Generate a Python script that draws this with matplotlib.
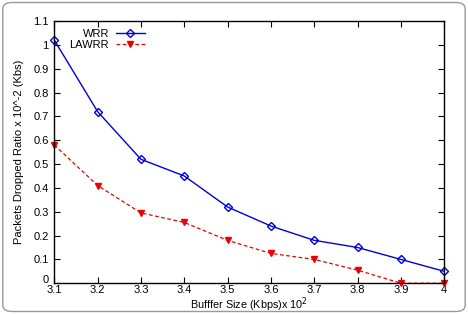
import matplotlib
matplotlib.use("Agg")
import matplotlib.pyplot as plt
from matplotlib.patches import FancyBboxPatch

plt.rcParams["font.family"] = ["Liberation Sans", "DejaVu Sans"]

buffer_size = [3.1, 3.2, 3.3, 3.4, 3.5, 3.6, 3.7, 3.8, 3.9, 4.0]
wrr = [1.02, 0.72, 0.52, 0.45, 0.32, 0.24, 0.18, 0.15, 0.10, 0.05]
lawrr = [0.58, 0.41, 0.295, 0.255, 0.18, 0.125, 0.10, 0.055, 0.0, 0.0]
x_ticks = [3.1, 3.2, 3.3, 3.4, 3.5, 3.6, 3.7, 3.8, 3.9, 4.0]
x_tick_labels = ["3.1", "3.2", "3.3", "3.4", "3.5", "3.6", "3.7", "3.8", "3.9", "4"]
y_ticks = [0, 0.1, 0.2, 0.3, 0.4, 0.5, 0.6, 0.7, 0.8, 0.9, 1.0, 1.1]
y_tick_labels = ["0", "0.1", "0.2", "0.3", "0.4", "0.5", "0.6", "0.7", "0.8", "0.9", "1", "1.1"]

fig = plt.figure(figsize=(4.68, 3.14), dpi=100)

# rounded grey frame round the whole figure
frame = FancyBboxPatch((0.006, 0.008), 0.988, 0.984, boxstyle="round,pad=0,rounding_size=0.02",
                       transform=fig.transFigure, facecolor="none", edgecolor="#999999", lw=1.0)
fig.patches.append(frame)

ax = fig.add_axes([0.116, 0.098, 0.833, 0.835])

ax.plot(buffer_size, wrr, color="#0000dd", lw=1.0, marker="D", markersize=4.5,
        markerfacecolor="none", markeredgecolor="#0000dd", markeredgewidth=1.0, label="WRR",
        clip_on=False)
ax.plot(buffer_size, lawrr, color="#ee0000", lw=0.9, ls=(0, (3, 2)), marker="v", markersize=5,
        markerfacecolor="#ee0000", markeredgecolor="#ee0000", label="LAWRR", clip_on=False)

ax.set_xlim(3.1, 4.0)
ax.set_ylim(0, 1.1)
ax.set_xticks(x_ticks)
ax.set_xticklabels(x_tick_labels)
ax.set_yticks(y_ticks)
ax.set_yticklabels(y_tick_labels)
ax.tick_params(direction="in", top=True, right=True, length=4, width=0.8, labelsize=8)
ax.tick_params(axis="x", pad=1.5)
ax.tick_params(axis="y", pad=4)
ax.get_yticklabels()[0].set_va("baseline")  # lift the 0 a little off the corner
for s in ax.spines.values():
    s.set_linewidth(1.0)

ax.set_xlabel("Bufffer Size (Kbps)x 10$^2$", fontsize=7.8, labelpad=0)
ax.set_ylabel("Packets Dropped Ratio x 10^-2 (Kbs)", fontsize=8, labelpad=7)

ax.legend(loc="upper left", bbox_to_anchor=(0.025, 0.99), frameon=False, fontsize=8,
          markerfirst=False, handlelength=2.6, handletextpad=0.6, labelspacing=0.05,
          borderaxespad=0.1, markerscale=0.9)

fig.savefig("out.png", dpi=100)
